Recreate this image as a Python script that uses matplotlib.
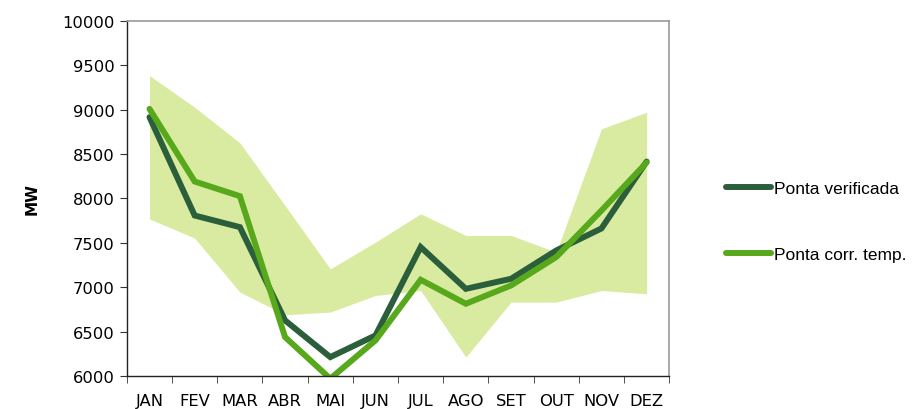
import matplotlib
matplotlib.use("Agg")
import matplotlib.pyplot as plt
import numpy as np

# meses e valores (MW)
meses = ["JAN", "FEV", "MAR", "ABR", "MAI", "JUN", "JUL", "AGO", "SET", "OUT", "NOV", "DEZ"]
ponta_verificada = [8916, 7808, 7677, 6626, 6213, 6457, 7452, 6982, 7095, 7414, 7662, 8416]
ponta_corr_temp = [9009, 8191, 8026, 6438, 5970, 6401, 7084, 6814, 7020, 7340, 7864, 8405]
banda_max = [9384, 9028, 8626, 7920, 7207, 7508, 7827, 7583, 7583, 7396, 8784, 8972]
banda_min = [7770, 7553, 6945, 6690, 6720, 6907, 6963, 6213, 6832, 6832, 6963, 6926]
yticks = [6000, 6500, 7000, 7500, 8000, 8500, 9000, 9500, 10000]

c_escuro = "#2b5e3b"
c_claro = "#58a81c"
c_banda = "#d9eba0"

fig = plt.figure(figsize=(9.13, 4.10), dpi=100)
ax = fig.add_axes([0.139, 0.0805, 0.594, 0.866])

x = np.arange(len(meses))
ax.fill_between(x, banda_min, banda_max, color=c_banda, linewidth=0)
ax.plot(x, ponta_verificada, color=c_escuro, lw=4.3, solid_capstyle="round",
        solid_joinstyle="miter", label="Ponta verificada")
ax.plot(x, ponta_corr_temp, color=c_claro, lw=4.3, solid_capstyle="round",
        solid_joinstyle="miter", label="Ponta corr. temp.")

ax.set_xlim(-0.5, len(meses) - 0.5)
ax.set_ylim(6000, 10000)
ax.set_yticks(yticks)
ax.set_yticklabels([str(v) for v in yticks], fontsize=11.8)
ax.set_xticks(x)
ax.set_xticklabels(meses, fontsize=11.8)
ax.set_xticks(np.arange(-0.5, len(meses), 1), minor=True)
ax.tick_params(axis="x", which="major", length=0, pad=12)
ax.tick_params(axis="x", which="minor", length=5, direction="out", color="#333333")
ax.tick_params(axis="y", length=5, direction="out", color="#333333", pad=4)

for s in ["left", "bottom"]:
    ax.spines[s].set_color("#222222")
    ax.spines[s].set_linewidth(1.0)
for s in ["top", "right"]:
    ax.spines[s].set_color("#999999")
    ax.spines[s].set_linewidth(1.2)

ax.set_ylabel("MW", fontsize=11, fontweight="bold", labelpad=16)

fig.legend(loc="upper left", bbox_to_anchor=(0.778, 0.595), frameon=False,
           handlelength=2.6, handletextpad=0.15, labelspacing=2.95,
           prop={"family": "Liberation Sans", "size": 12.5})

fig.savefig("out.png", dpi=100)
